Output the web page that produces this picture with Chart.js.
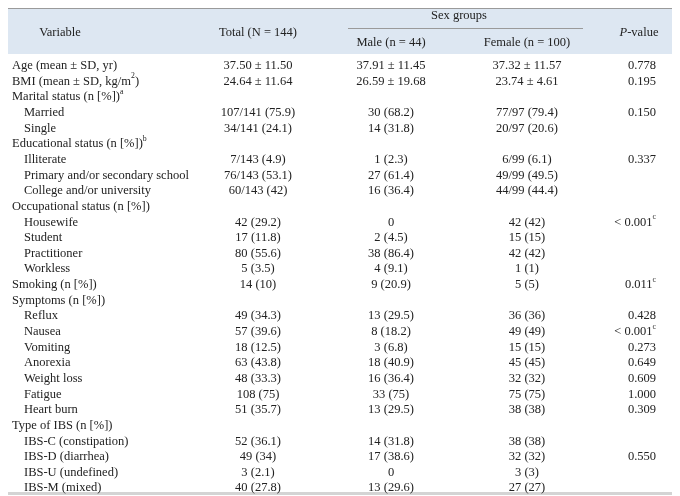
<!DOCTYPE html>
<html><head><meta charset="utf-8">
<script src="https://cdn.jsdelivr.net/npm/chart.js@4/dist/chart.umd.min.js"></script>
<style>html,body{margin:0;padding:0;background:#fff}#wrap{width:680px;height:496px;position:relative}</style>
</head><body><div id="wrap"><canvas id="c" width="680" height="496"></canvas></div>
<script>
// ---- table data ----
const variables = [
  'Age (mean \u00b1 SD, yr)', 'BMI (mean \u00b1 SD, kg/m^{2})', 'Marital status (n [%])^{a}', 'Married', 'Single',
  'Educational status (n [%])^{b}', 'Illiterate', 'Primary and/or secondary school', 'College and/or university',
  'Occupational status (n [%])', 'Housewife', 'Student', 'Practitioner', 'Workless',
  'Smoking (n [%])', 'Symptoms (n [%])', 'Reflux', 'Nausea', 'Vomiting', 'Anorexia', 'Weight loss', 'Fatigue', 'Heart burn',
  'Type of IBS (n [%])', 'IBS-C (constipation)', 'IBS-D (diarrhea)', 'IBS-U (undefined)', 'IBS-M (mixed)'
];
const isSubItem = [
  false, false, false, true, true,
  false, true, true, true,
  false, true, true, true, true,
  false, false, true, true, true, true, true, true, true,
  false, true, true, true, true
];
const totals = [
  '37.50 \u00b1 11.50', '24.64 \u00b1 11.64', '', '107/141 (75.9)', '34/141 (24.1)',
  '', '7/143 (4.9)', '76/143 (53.1)', '60/143 (42)',
  '', '42 (29.2)', '17 (11.8)', '80 (55.6)', '5 (3.5)',
  '14 (10)', '', '49 (34.3)', '57 (39.6)', '18 (12.5)', '63 (43.8)', '48 (33.3)', '108 (75)', '51 (35.7)',
  '', '52 (36.1)', '49 (34)', '3 (2.1)', '40 (27.8)'
];
const males = [
  '37.91 \u00b1 11.45', '26.59 \u00b1 19.68', '', '30 (68.2)', '14 (31.8)',
  '', '1 (2.3)', '27 (61.4)', '16 (36.4)',
  '', '0', '2 (4.5)', '38 (86.4)', '4 (9.1)',
  '9 (20.9)', '', '13 (29.5)', '8 (18.2)', '3 (6.8)', '18 (40.9)', '16 (36.4)', '33 (75)', '13 (29.5)',
  '', '14 (31.8)', '17 (38.6)', '0', '13 (29.6)'
];
const females = [
  '37.32 \u00b1 11.57', '23.74 \u00b1 4.61', '', '77/97 (79.4)', '20/97 (20.6)',
  '', '6/99 (6.1)', '49/99 (49.5)', '44/99 (44.4)',
  '', '42 (42)', '15 (15)', '42 (42)', '1 (1)',
  '5 (5)', '', '36 (36)', '49 (49)', '15 (15)', '45 (45)', '32 (32)', '75 (75)', '38 (38)',
  '', '38 (38)', '32 (32)', '3 (3)', '27 (27)'
];
const pValues = [
  '0.778', '0.195', '', '0.150', '',
  '', '0.337', '', '',
  '', '< 0.001^{c}', '', '', '',
  '0.011^{c}', '', '0.428', '< 0.001^{c}', '0.273', '0.649', '0.609', '1.000', '0.309',
  '', '', '0.550', '', ''
];
const columnHeaders = ['Variable', 'Total (N = 144)', 'Male (n = 44)', 'Female (n = 100)', '*{P}-value'];
const groupHeader = 'Sex groups';

// ---- rich text helpers ----
const FS = 12.5, FAM = '"Liberation Serif", "DejaVu Serif", serif';
function parseRich(s) {
  const out = []; const re = /([\^*])\{([^}]*)\}/g; let last = 0, m;
  while ((m = re.exec(s))) {
    if (m.index > last) out.push({t: s.slice(last, m.index), k: 'n'});
    out.push({t: m[2], k: m[1] === '^' ? 'sup' : 'it'}); last = re.lastIndex;
  }
  if (last < s.length) out.push({t: s.slice(last), k: 'n'});
  return out;
}
function fontFor(k) {
  if (k === 'sup') return (FS * 0.62) + 'px ' + FAM;
  if (k === 'it') return 'italic ' + FS + 'px ' + FAM;
  return FS + 'px ' + FAM;
}
function richWidth(ctx, segs) {
  let w = 0; segs.forEach(s => { ctx.font = fontFor(s.k); w += ctx.measureText(s.t).width; }); return w;
}
function drawRich(ctx, str, x, y, align) {
  if (!str) return;
  const segs = parseRich(str); const w = richWidth(ctx, segs);
  let cx = align === 'center' ? x - w / 2 : align === 'right' ? x - w : x;
  ctx.textAlign = 'left'; ctx.textBaseline = 'middle';
  segs.forEach(s => {
    ctx.font = fontFor(s.k);
    ctx.fillText(s.t, cx, s.k === 'sup' ? y - 5 : y);
    cx += ctx.measureText(s.t).width;
  });
}

const tablePlugin = {
  id: 'tablePlugin',
  beforeDraw(chart) {
    const ctx = chart.ctx, x = chart.scales.x;
    const left = x.getPixelForValue(0), right = x.getPixelForValue(664);
    const top = 8, headBottom = 54;
    ctx.save();
    ctx.fillStyle = '#dde7f2';
    ctx.fillRect(left, top, right - left, headBottom - top);
    ctx.strokeStyle = '#9a9a9a'; ctx.lineWidth = 1;
    ctx.beginPath(); ctx.moveTo(left, top + 0.5); ctx.lineTo(right, top + 0.5); ctx.stroke();
    ctx.fillStyle = '#d4d4d4';
    ctx.fillRect(left, 492, right - left, 3);
    ctx.restore();
  },
  afterDraw(chart) {
    const ctx = chart.ctx, x = chart.scales.x, y = chart.scales.y;
    ctx.save();
    ctx.fillStyle = '#222';
    const cVar = x.getPixelForValue(52), cTot = x.getPixelForValue(250), cMale = x.getPixelForValue(383),
          cFem = x.getPixelForValue(519), cP = x.getPixelForValue(631), pRight = x.getPixelForValue(648);
    // header
    drawRich(ctx, columnHeaders[0], cVar, 33, 'center');
    drawRich(ctx, columnHeaders[1], cTot, 33, 'center');
    drawRich(ctx, groupHeader, (cMale + cFem) / 2, 16, 'center');
    drawRich(ctx, columnHeaders[2], cMale, 43, 'center');
    drawRich(ctx, columnHeaders[3], cFem, 43, 'center');
    drawRich(ctx, columnHeaders[4], cP, 33, 'center');
    ctx.strokeStyle = '#9a9a9a'; ctx.lineWidth = 1;
    ctx.beginPath(); ctx.moveTo(x.getPixelForValue(340), 28.5); ctx.lineTo(x.getPixelForValue(575), 28.5); ctx.stroke();
    // body
    variables.forEach((v, i) => {
      const py = y.getPixelForValue(i);
      drawRich(ctx, v, x.getPixelForValue(isSubItem[i] ? 16 : 4), py, 'left');
      drawRich(ctx, totals[i], cTot, py, 'center');
      drawRich(ctx, males[i], cMale, py, 'center');
      drawRich(ctx, females[i], cFem, py, 'center');
      drawRich(ctx, pValues[i], pRight, py, 'right');
    });
    ctx.restore();
  }
};

new Chart(document.getElementById('c'), {
  type: 'bar',
  data: { labels: variables, datasets: [{ data: variables.map(() => null), backgroundColor: 'rgba(0,0,0,0)' }] },
  options: {
    indexAxis: 'y', responsive: false, animation: false, maintainAspectRatio: false,
    layout: { padding: { top: 58, bottom: 0, left: 8, right: 8 } },
    plugins: { legend: { display: false }, tooltip: { enabled: false } },
    scales: {
      x: { type: 'linear', min: 0, max: 664, display: false },
      y: { type: 'category', display: false, offset: true }
    }
  },
  plugins: [tablePlugin]
});
</script></body></html>
